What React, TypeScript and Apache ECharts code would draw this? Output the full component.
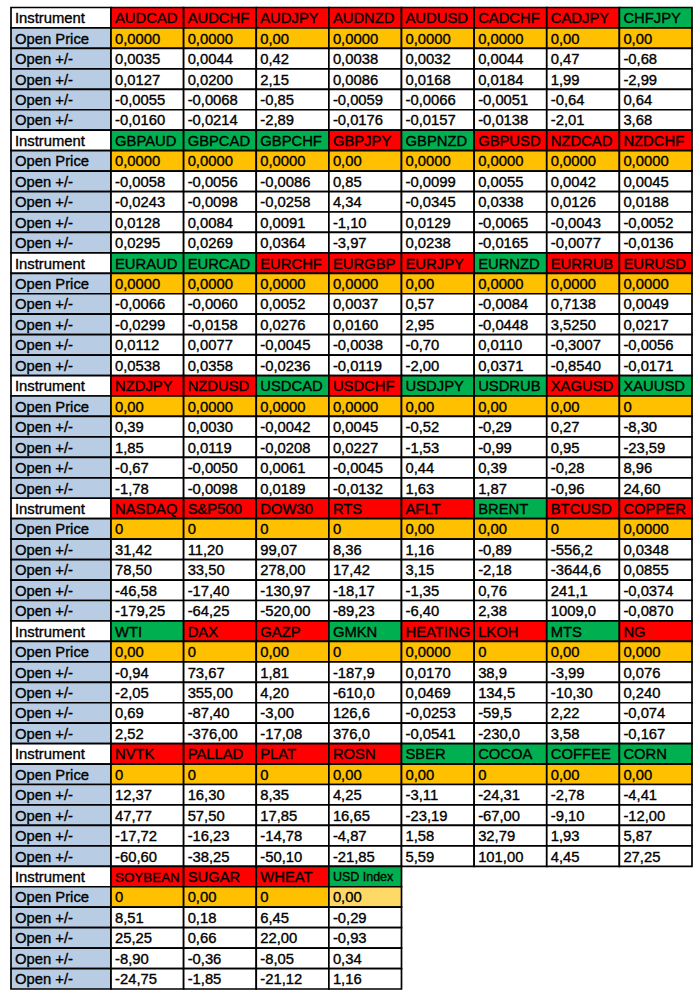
import React, { useEffect, useRef } from "react";
import * as echarts from "echarts";

const rowLabels = ["Instrument", "Open Price", "Open +/-", "Open +/-", "Open +/-", "Open +/-"];

const names1 = ["AUDCAD", "AUDCHF", "AUDJPY", "AUDNZD", "AUDUSD", "CADCHF", "CADJPY", "CHFJPY"];
const trend1 = ["R", "R", "R", "R", "R", "R", "R", "G"];
const open1 = ["0,0000", "0,0000", "0,00", "0,0000", "0,0000", "0,0000", "0,00", "0,00"];
const moves1 = [
  ["0,0035", "0,0044", "0,42", "0,0038", "0,0032", "0,0044", "0,47", "-0,68"],
  ["0,0127", "0,0200", "2,15", "0,0086", "0,0168", "0,0184", "1,99", "-2,99"],
  ["-0,0055", "-0,0068", "-0,85", "-0,0059", "-0,0066", "-0,0051", "-0,64", "0,64"],
  ["-0,0160", "-0,0214", "-2,89", "-0,0176", "-0,0157", "-0,0138", "-2,01", "3,68"],
];

const names2 = ["GBPAUD", "GBPCAD", "GBPCHF", "GBPJPY", "GBPNZD", "GBPUSD", "NZDCAD", "NZDCHF"];
const trend2 = ["G", "G", "G", "R", "G", "R", "R", "R"];
const open2 = ["0,0000", "0,0000", "0,0000", "0,00", "0,0000", "0,0000", "0,0000", "0,0000"];
const moves2 = [
  ["-0,0058", "-0,0056", "-0,0086", "0,85", "-0,0099", "0,0055", "0,0042", "0,0045"],
  ["-0,0243", "-0,0098", "-0,0258", "4,34", "-0,0345", "0,0338", "0,0126", "0,0188"],
  ["0,0128", "0,0084", "0,0091", "-1,10", "0,0129", "-0,0065", "-0,0043", "-0,0052"],
  ["0,0295", "0,0269", "0,0364", "-3,97", "0,0238", "-0,0165", "-0,0077", "-0,0136"],
];

const names3 = ["EURAUD", "EURCAD", "EURCHF", "EURGBP", "EURJPY", "EURNZD", "EURRUB", "EURUSD"];
const trend3 = ["G", "G", "R", "R", "R", "G", "R", "R"];
const open3 = ["0,0000", "0,0000", "0,0000", "0,0000", "0,00", "0,0000", "0,0000", "0,0000"];
const moves3 = [
  ["-0,0066", "-0,0060", "0,0052", "0,0037", "0,57", "-0,0084", "0,7138", "0,0049"],
  ["-0,0299", "-0,0158", "0,0276", "0,0160", "2,95", "-0,0448", "3,5250", "0,0217"],
  ["0,0112", "0,0077", "-0,0045", "-0,0038", "-0,70", "0,0110", "-0,3007", "-0,0056"],
  ["0,0538", "0,0358", "-0,0236", "-0,0119", "-2,00", "0,0371", "-0,8540", "-0,0171"],
];

const names4 = ["NZDJPY", "NZDUSD", "USDCAD", "USDCHF", "USDJPY", "USDRUB", "XAGUSD", "XAUUSD"];
const trend4 = ["R", "R", "G", "R", "G", "G", "R", "G"];
const open4 = ["0,00", "0,0000", "0,0000", "0,0000", "0,00", "0,00", "0,00", "0"];
const moves4 = [
  ["0,39", "0,0030", "-0,0042", "0,0045", "-0,52", "-0,29", "0,27", "-8,30"],
  ["1,85", "0,0119", "-0,0208", "0,0227", "-1,53", "-0,99", "0,95", "-23,59"],
  ["-0,67", "-0,0050", "0,0061", "-0,0045", "0,44", "0,39", "-0,28", "8,96"],
  ["-1,78", "-0,0098", "0,0189", "-0,0132", "1,63", "1,87", "-0,96", "24,60"],
];

const names5 = ["NASDAQ", "S&P500", "DOW30", "RTS", "AFLT", "BRENT", "BTCUSD", "COPPER"];
const trend5 = ["R", "R", "R", "R", "R", "G", "R", "R"];
const open5 = ["0", "0", "0", "0", "0,00", "0,00", "0", "0,0000"];
const moves5 = [
  ["31,42", "11,20", "99,07", "8,36", "1,16", "-0,89", "-556,2", "0,0348"],
  ["78,50", "33,50", "278,00", "17,42", "3,15", "-2,18", "-3644,6", "0,0855"],
  ["-46,58", "-17,40", "-130,97", "-18,17", "-1,35", "0,76", "241,1", "-0,0374"],
  ["-179,25", "-64,25", "-520,00", "-89,23", "-6,40", "2,38", "1009,0", "-0,0870"],
];

const names6 = ["WTI", "DAX", "GAZP", "GMKN", "HEATING", "LKOH", "MTS", "NG"];
const trend6 = ["G", "R", "R", "G", "R", "R", "G", "R"];
const open6 = ["0,00", "0", "0,00", "0", "0,0000", "0", "0,00", "0,000"];
const moves6 = [
  ["-0,94", "73,67", "1,81", "-187,9", "0,0170", "38,9", "-3,99", "0,076"],
  ["-2,05", "355,00", "4,20", "-610,0", "0,0469", "134,5", "-10,30", "0,240"],
  ["0,69", "-87,40", "-3,00", "126,6", "-0,0253", "-59,5", "2,22", "-0,074"],
  ["2,52", "-376,00", "-17,08", "376,0", "-0,0541", "-230,0", "3,58", "-0,167"],
];

const names7 = ["NVTK", "PALLAD", "PLAT", "ROSN", "SBER", "COCOA", "COFFEE", "CORN"];
const trend7 = ["R", "R", "R", "R", "G", "G", "G", "G"];
const open7 = ["0", "0", "0", "0,00", "0,00", "0", "0,00", "0,00"];
const moves7 = [
  ["12,37", "16,30", "8,35", "4,25", "-3,11", "-24,31", "-2,78", "-4,41"],
  ["47,77", "57,50", "17,85", "16,65", "-23,19", "-67,00", "-9,10", "-12,00"],
  ["-17,72", "-16,23", "-14,78", "-4,87", "1,58", "32,79", "1,93", "5,87"],
  ["-60,60", "-38,25", "-50,10", "-21,85", "5,59", "101,00", "4,45", "27,25"],
];

const names8 = ["SOYBEAN", "SUGAR", "WHEAT", "USD Index"];
const trend8 = ["R", "R", "R", "G"];
const open8 = ["0", "0,00", "0", "0,00"];
const moves8 = [
  ["8,51", "0,18", "6,45", "-0,29"],
  ["25,25", "0,66", "22,00", "-0,93"],
  ["-8,90", "-0,36", "-8,05", "0,34"],
  ["-24,75", "-1,85", "-21,12", "1,16"],
];

const blocks = [
  { names: names1, trend: trend1, open: open1, moves: moves1 },
  { names: names2, trend: trend2, open: open2, moves: moves2 },
  { names: names3, trend: trend3, open: open3, moves: moves3 },
  { names: names4, trend: trend4, open: open4, moves: moves4 },
  { names: names5, trend: trend5, open: open5, moves: moves5 },
  { names: names6, trend: trend6, open: open6, moves: moves6 },
  { names: names7, trend: trend7, open: open7, moves: moves7 },
  { names: names8, trend: trend8, open: open8, moves: moves8 },
];

const RED = "#FF0000";
const GREEN = "#00B050";
const ORANGE = "#FFC000";
const LIGHT_ORANGE = "#FFD966";
const BLUE = "#B8CCE4";
const FONT = "'Liberation Sans', Arial, sans-serif";
const smallText: Record<string, number> = { SOYBEAN: 13.4, "USD Index": 12.5 };

type Cell = { value: [number, number]; text: string; fill: string };

const ROWS = blocks.length * rowLabels.length;
const yCats = Array.from({ length: ROWS }, (_, i) => "r" + i);
const xCats = Array.from({ length: 8 }, (_, i) => "c" + i);

const labelCells: Cell[] = [];
const valueCells: Cell[] = [];
blocks.forEach((b, bi) => {
  const base = bi * rowLabels.length;
  rowLabels.forEach((lab, ri) => {
    labelCells.push({ value: [0, base + ri], text: lab, fill: ri === 0 ? "#FFFFFF" : BLUE });
  });
  b.names.forEach((n, ci) => {
    valueCells.push({ value: [ci, base], text: n, fill: b.trend[ci] === "G" ? GREEN : RED });
    valueCells.push({
      value: [ci, base + 1],
      text: b.open[ci],
      fill: n === "USD Index" ? LIGHT_ORANGE : ORANGE,
    });
    b.moves.forEach((row, mi) => {
      valueCells.push({ value: [ci, base + 2 + mi], text: row[ci], fill: "#FFFFFF" });
    });
  });
});

function makeRender(cells: Cell[], withText: boolean) {
  return (params: any, api: any) => {
    const c = cells[params.dataIndex];
    const center = api.coord([api.value(0), api.value(1)]);
    const size = api.size([1, 1]);
    const w = size[0];
    const h = size[1];
    const x = center[0] - w / 2;
    const y = center[1] - h / 2;
    if (!withText) {
      return {
        type: "rect",
        shape: { x, y, width: w, height: h },
        style: { fill: c.fill, stroke: "#000", lineWidth: 1.7 },
      };
    }
    return {
      type: "text",
      x: x + 4,
      y: y + h / 2 + 0.5,
      style: {
        text: c.text,
        fill: "#000000",
        stroke: "#000000",
        lineWidth: 0.35,
        fontSize: smallText[c.text] || 14.8,
        fontFamily: FONT,
        verticalAlign: "middle",
        align: "left",
      },
    };
  };
}

export default function App() {
  const ref = useRef<HTMLDivElement>(null);
  useEffect(() => {
    if (!ref.current) return;
    const chart = echarts.init(ref.current, undefined, { renderer: "svg" });
    const top = 7.5;
    const bottom = 10;
    const seriesFor = (cells: Cell[], idx: number, withText: boolean) => ({
      type: "custom",
      xAxisIndex: idx,
      yAxisIndex: idx,
      z: withText ? 3 : 2,
      silent: true,
      encode: { x: 0, y: 1 },
      data: cells.map((c) => c.value),
      renderItem: makeRender(cells, withText),
    });
    chart.setOption({
      animation: false,
      backgroundColor: "#FFFFFF",
      grid: [
        { left: 11, width: 100, top, bottom },
        { left: 111, width: 581, top, bottom },
      ],
      xAxis: [
        { type: "category", gridIndex: 0, data: ["label"], show: false },
        { type: "category", gridIndex: 1, data: xCats, show: false },
      ],
      yAxis: [
        { type: "category", gridIndex: 0, data: yCats, inverse: true, show: false },
        { type: "category", gridIndex: 1, data: yCats, inverse: true, show: false },
      ],
      series: [
        seriesFor(labelCells, 0, false),
        seriesFor(valueCells, 1, false),
        seriesFor(labelCells, 0, true),
        seriesFor(valueCells, 1, true),
      ],
    });
    return () => chart.dispose();
  }, []);
  return (
    <div
      ref={ref}
      style={{ position: "absolute", left: 0, top: 0, width: 700, height: 999 }}
    />
  );
}
